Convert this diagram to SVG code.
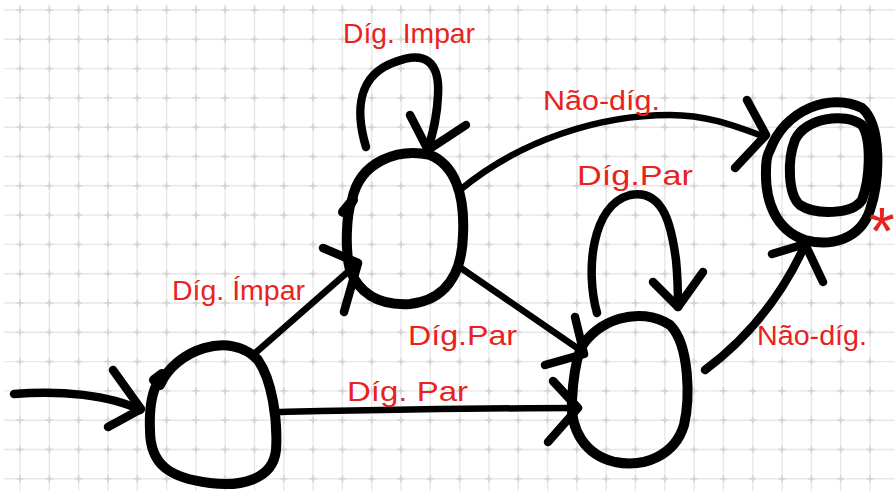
<svg xmlns="http://www.w3.org/2000/svg" width="895" height="491" viewBox="0 0 895 491">
  <style>
    .grid { stroke: #e8e8e8; stroke-width: 1.4; fill: none; }
    .node { fill: none; stroke: #000; stroke-width: 10; stroke-linecap: round; stroke-linejoin: round; }
    .edge { fill: none; stroke: #000; stroke-width: 6.5; stroke-linecap: round; stroke-linejoin: round; }
    .thick { stroke-width: 8.5; }
    .head { fill: none; stroke: #000; stroke-width: 8.5; stroke-linecap: round; stroke-linejoin: round; }
    .lbl { fill: #e8231d; font-family: "Liberation Sans Narrow", "Liberation Sans", sans-serif; font-size: 28px; }
  </style>
  <defs>
    <pattern id="cross" x="5.345" y="-4.65" width="29.31" height="29.3" patternUnits="userSpaceOnUse">
      <path d="M11.155 14.65h7M14.655 11.15v7" stroke="#d2d2d2" stroke-width="1.5" fill="none"/>
    </pattern>
  </defs>

  <!-- squared paper -->
  <rect width="895" height="491" fill="#fff"/>
  <g id="paper">
    <path class="grid" d="M20 4V491M49.3 4V491M78.6 4V491M107.9 4V491M137.2 4V491M166.6 4V491M195.9 4V491M225.2 4V491M254.5 4V491M283.8 4V491M313.1 4V491M342.4 4V491M371.7 4V491M401 4V491M430.3 4V491M459.7 4V491M489 4V491M518.3 4V491M547.6 4V491M576.9 4V491M606.2 4V491M635.5 4V491M664.8 4V491M694.1 4V491M723.4 4V491M752.8 4V491M782.1 4V491M811.4 4V491M840.7 4V491M870 4V491"/>
    <path class="grid" d="M4 10H895M4 39.3H895M4 68.6H895M4 97.9H895M4 127.2H895M4 156.5H895M4 185.8H895M4 215.1H895M4 244.4H895M4 273.7H895M4 303H895M4 332.3H895M4 361.6H895M4 390.9H895M4 420.2H895M4 449.5H895M4 478.8H895"/>
    <rect x="4" y="4" width="891" height="487" fill="url(#cross)"/>
  </g>

  <!-- transitions -->
  <g id="connectors">
    <!-- initial arrow -->
    <path class="edge thick" d="M14 394C60 390 110 395 140 410"/>
    <path class="head" d="M113 370L141 409L108 427"/>
    <!-- q0 -> q1 : Díg. Ímpar -->
    <path class="edge" d="M253 355L358 263"/>
    <path class="head" d="M323 248L358 263L344 312"/>
    <!-- q0 -> q2 : Díg. Par -->
    <path class="edge" d="M276 412C380 410 480 408 578 408"/>
    <path class="head" d="M553 381L578 408L548 442"/>
    <!-- q1 -> q2 : Díg.Par -->
    <path class="edge" d="M458 266L583 352"/>
    <path class="head" d="M575 317L584 354L545 365"/>
    <!-- q1 self loop : Díg. Impar -->
    <path class="edge thick" d="M366 147C355 110 358 75 395 62C425 50 440 62 438 95C437 120 432 135 428 150"/>
    <path class="head" d="M410 115L428 150L466 125"/>
    <!-- q2 self loop : Díg.Par -->
    <path class="edge thick" d="M597 313C585 270 592 205 630 195C665 188 672 230 676 260C678 280 678 295 678 307"/>
    <path class="head" d="M653 282L678 307L703 272"/>
    <!-- q1 -> q3 : Não-díg. -->
    <path class="edge" d="M460 190C520 140 600 115 670 115C710 115 740 128 765 137"/>
    <path class="head" d="M747 100L766 135L735 168"/>
    <!-- q2 -> q3 : Não-díg. -->
    <path class="edge thick" d="M705 370C745 340 780 300 805 245"/>
    <path class="head" d="M772 254L805 244L823 282"/>
  </g>

  <!-- states -->
  <g id="q0">
    <path class="node" d="M160 385C175 350 230 330 258 360C272 380 278 420 276 450C273 480 240 487 210 483C170 478 150 465 150 430C149 405 152 392 158 382"/>
    <path class="node" d="M154 380L162 374" stroke-width="7"/>
  </g>
  <g id="q1">
    <path class="node" d="M352 200C360 160 400 148 430 155C455 165 465 195 463 235C462 275 445 300 410 304C375 306 358 290 350 270C345 250 346 215 352 200"/>
    <path class="node" d="M343 212L353 200" stroke-width="7"/>
  </g>
  <g id="q2">
    <path class="node" d="M580 350C595 320 640 305 670 325C690 345 690 400 684 425C675 455 645 468 615 462C585 455 570 430 572 400C573 380 575 365 580 350"/>
  </g>
  <g id="q3">
    <path class="node" d="M770 150C785 110 830 92 862 108C882 125 880 180 870 210C860 240 830 247 805 240C775 230 765 200 766 170C766 160 767 155 770 150"/>
    <path class="node" d="M795 140C805 118 845 112 862 125C872 140 870 180 862 200C852 215 815 215 800 205C788 195 787 160 795 140"/>
    <text class="lbl" x="869" y="254" style="font-size:66px">*</text>
  </g>

  <!-- transition labels -->
  <g id="labels">
    <text class="lbl" x="343" y="43" textLength="132" lengthAdjust="spacingAndGlyphs">Díg. Impar</text>
    <text class="lbl" x="543" y="110" textLength="117" lengthAdjust="spacingAndGlyphs">Não-díg.</text>
    <text class="lbl" x="577" y="185" textLength="116" lengthAdjust="spacingAndGlyphs">Díg.Par</text>
    <text class="lbl" x="172" y="300" textLength="133" lengthAdjust="spacingAndGlyphs">Díg. Ímpar</text>
    <text class="lbl" x="408" y="345" textLength="109" lengthAdjust="spacingAndGlyphs">Díg.Par</text>
    <text class="lbl" x="347" y="401" textLength="121" lengthAdjust="spacingAndGlyphs">Díg. Par</text>
    <text class="lbl" x="757" y="345" textLength="110" lengthAdjust="spacingAndGlyphs">Não-díg.</text>
  </g>
</svg>
